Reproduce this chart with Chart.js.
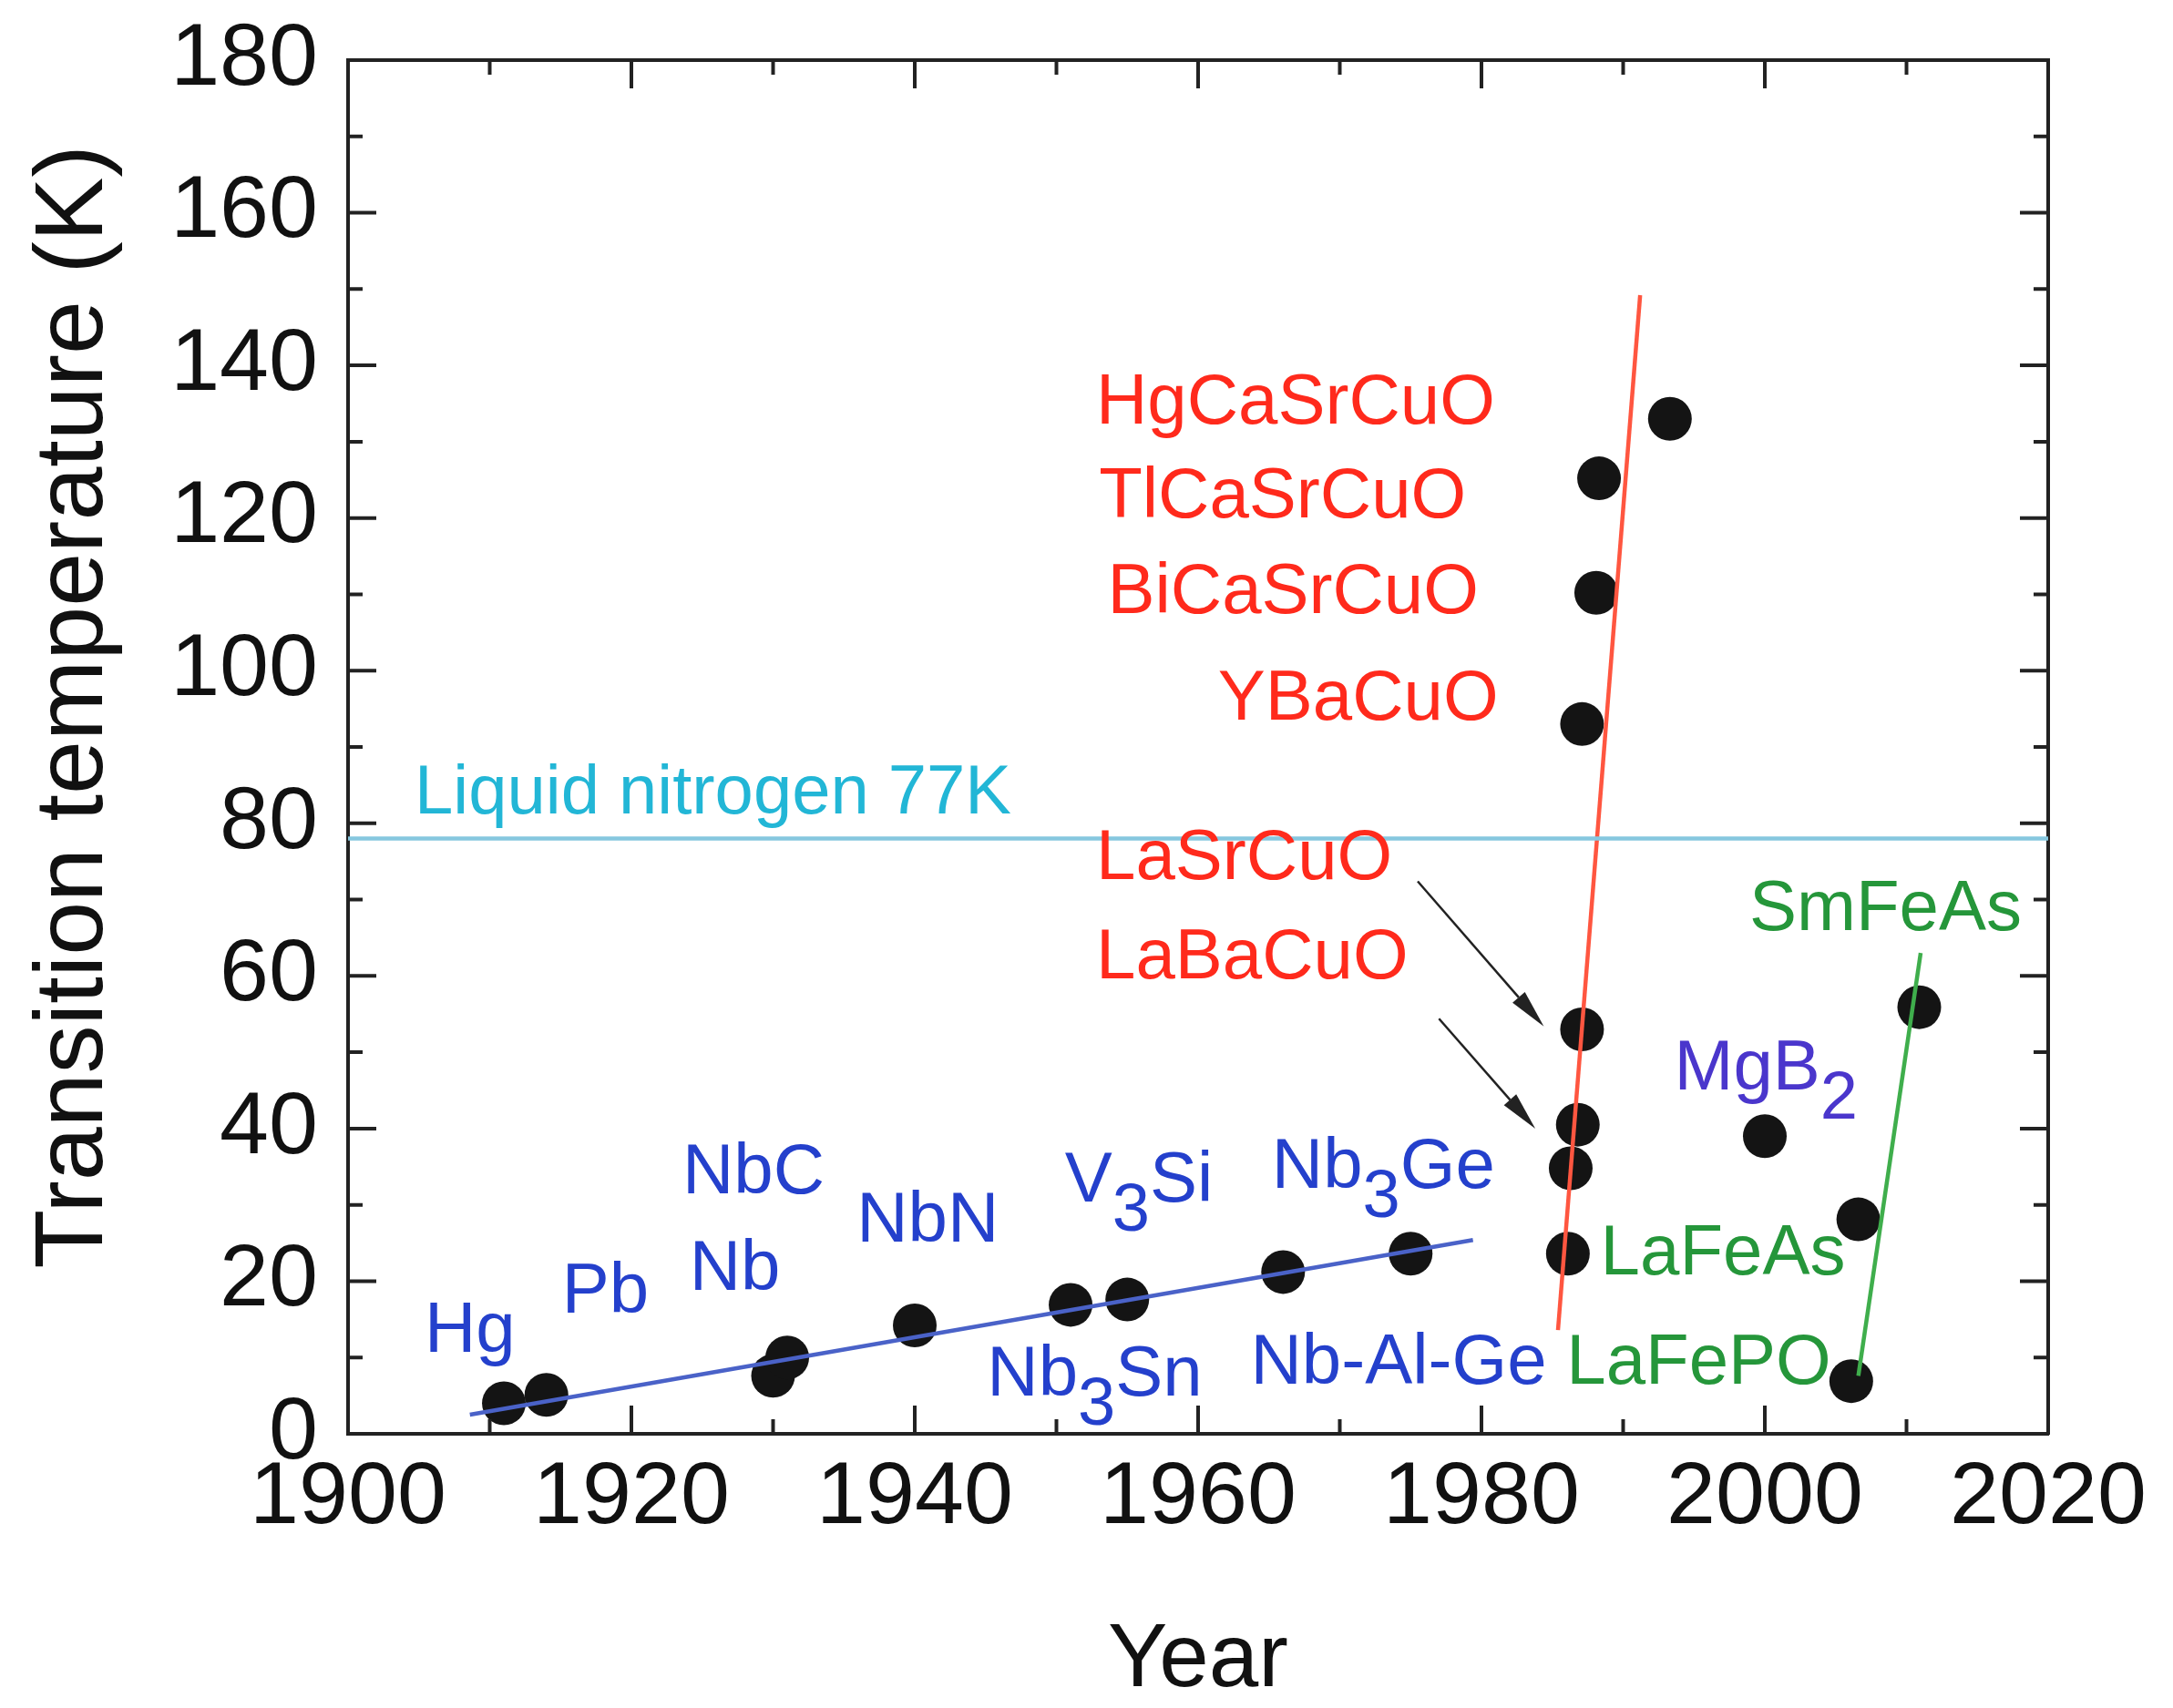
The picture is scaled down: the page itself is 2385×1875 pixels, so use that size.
<!DOCTYPE html>
<html lang="en">
<head>
<meta charset="UTF-8">
<title>Superconductor transition temperatures</title>
<script src="https://cdn.jsdelivr.net/npm/chart.js"></script>
<style>
  html, body { margin: 0; padding: 0; background: #fff; }
  #wrap { width: 2385px; height: 1875px; }
</style>
</head>
<body>
<div id="wrap"><canvas id="chart"></canvas></div>
<script>
    // measured points (year, Tc in K)
    const years = [1911, 1914, 1930, 1931, 1940, 1951, 1955, 1966, 1975,
                   1986.1, 1986.3, 1986.8, 1987.1, 1987.1, 1988.1, 1988.3, 1993.3,
                   2000, 2006.1, 2006.6, 2010.9];
    const tc = [4.0, 5.1, 7.6, 10, 14.2, 16.9, 17.6, 21.2, 23.6,
                23.6, 34.8, 40.5, 53, 93, 110.2, 125.2, 133,
                39, 6.9, 28.1, 55.9];

    // trend lines
    const blueX = [1908.6, 1979.4], blueY = [2.5, 25.4];
    const redX = [1985.4, 1991.2], redY = [13.6, 149.2];
    const greenX = [2006.6, 2011.0], greenY = [7.6, 63];
    const nitrogenX = [1900, 2020], nitrogenY = [78, 78];

    const xTicks = [1900, 1920, 1940, 1960, 1980, 2000, 2020];
    const yTicks = [0, 20, 40, 60, 80, 100, 120, 140, 160, 180];

    const RED = '#ff2a1c', BLUE = '#2440cc', GREEN = '#25963a', CYAN = '#22b6d6', PURPLE = '#4a36cc';
    const FONT = '"Liberation Sans", Arial, sans-serif';

    // text notes, '_' marks a subscript character
    const notes = [
        ['HgCaSrCuO', 1952.8, 135.0, RED],
        ['TlCaSrCuO', 1953.0, 122.7, RED],
        ['BiCaSrCuO', 1953.6, 110.1, RED],
        ['YBaCuO', 1961.4, 96.2, RED],
        ['LaSrCuO', 1952.8, 75.3, RED],
        ['LaBaCuO', 1952.8, 62.2, RED],
        ['SmFeAs', 1998.9, 68.6, GREEN],
        ['LaFeAs', 1988.4, 23.4, GREEN],
        ['LaFePO', 1986.0, 9.1, GREEN],
        ['MgB_2', 1993.6, 47.7, PURPLE],
        ['Hg', 1905.4, 13.3, BLUE],
        ['Pb', 1915.1, 18.5, BLUE],
        ['Nb', 1924.1, 21.4, BLUE],
        ['NbC', 1923.6, 34.1, BLUE],
        ['NbN', 1935.9, 27.8, BLUE],
        ['V_3Si', 1950.6, 33.0, BLUE],
        ['Nb_3Ge', 1965.2, 34.8, BLUE],
        ['Nb_3Sn', 1945.1, 7.6, BLUE],
        ['Nb-Al-Ge', 1963.7, 9.1, BLUE]
    ];
    const arrows = [
        [1975.5, 72.4, 1984.4, 53.4],
        [1977.0, 54.4, 1983.8, 40.0]
    ];

    function pts(xs, ys) {
        return xs.map(function (x, i) { return { x: x, y: ys[i] }; });
    }

    function drawRich(ctx, str, x, y, size) {
        // split into normal / subscript runs
        let runs = [], cur = '';
        for (let i = 0; i < str.length; i++) {
            if (str[i] === '_') {
                if (cur) runs.push([cur, false]);
                cur = '';
                runs.push([str[i + 1], true]);
                i++;
            } else {
                cur += str[i];
            }
        }
        if (cur) runs.push([cur, false]);
        let cx = x;
        runs.forEach(function (r) {
            ctx.font = (r[1] ? size * 0.95 : size) + 'px ' + FONT;
            ctx.fillText(r[0], cx, r[1] ? y + size * 0.42 : y);
            cx += ctx.measureText(r[0]).width;
        });
    }

    const overlay = {
        id: 'overlay',
        afterDatasetsDraw(chart) {
            const ctx = chart.ctx, xs = chart.scales.x, ys = chart.scales.y;
            ctx.save();
            // label text
            ctx.textBaseline = 'middle';
            ctx.textAlign = 'left';
            notes.forEach(function (n) {
                ctx.fillStyle = n[3];
                drawRich(ctx, n[0], xs.getPixelForValue(n[1]), ys.getPixelForValue(n[2]), 78);
            });
            ctx.fillStyle = CYAN;
            ctx.font = '76px ' + FONT;
            ctx.fillText('Liquid nitrogen 77K', xs.getPixelForValue(1904.7), ys.getPixelForValue(83.8));

            // arrows
            ctx.strokeStyle = '#222';
            ctx.fillStyle = '#222';
            ctx.lineWidth = 2.5;
            arrows.forEach(function (a) {
                const x0 = xs.getPixelForValue(a[0]), y0 = ys.getPixelForValue(a[1]);
                const x1 = xs.getPixelForValue(a[2]), y1 = ys.getPixelForValue(a[3]);
                const ang = Math.atan2(y1 - y0, x1 - x0);
                const hl = 42, hw = 9;
                const bx = x1 - hl * Math.cos(ang), by = y1 - hl * Math.sin(ang);
                ctx.beginPath();
                ctx.moveTo(x0, y0);
                ctx.lineTo(bx, by);
                ctx.stroke();
                ctx.beginPath();
                ctx.moveTo(x1, y1);
                ctx.lineTo(bx + hw * Math.sin(ang), by - hw * Math.cos(ang));
                ctx.lineTo(bx - hw * Math.sin(ang), by + hw * Math.cos(ang));
                ctx.closePath();
                ctx.fill();
            });
            ctx.restore();
        },
        afterDraw(chart) {
            // inward ticks on all four sides
            const ctx = chart.ctx, xs = chart.scales.x, ys = chart.scales.y;
            const a = chart.chartArea;
            ctx.save();
            ctx.strokeStyle = '#222';
            ctx.lineWidth = 4;
            ctx.beginPath();
            for (let v = xs.min + 10; v < xs.max; v += 10) {
                const px = xs.getPixelForValue(v);
                const len = v % 20 === 0 ? 31 : 16;
                ctx.moveTo(px, a.bottom); ctx.lineTo(px, a.bottom - len);
                ctx.moveTo(px, a.top); ctx.lineTo(px, a.top + len);
            }
            for (let v = ys.min + 10; v < ys.max; v += 10) {
                const py = ys.getPixelForValue(v);
                const len = v % 20 === 0 ? 31 : 16;
                ctx.moveTo(a.left, py); ctx.lineTo(a.left + len, py);
                ctx.moveTo(a.right, py); ctx.lineTo(a.right - len, py);
            }
            ctx.stroke();
            ctx.restore();
        }
    };

    const border = { display: true, width: 4, color: '#222' };
    const noGrid = { display: false, drawTicks: false };

    function fixWidth(w) {
        return function (s) { s.width = w; s.paddingTop = 0; s.paddingBottom = 0; };
    }
    function fixHeight(h) {
        return function (s) { s.height = h; s.paddingLeft = 0; s.paddingRight = 0; };
    }

    new Chart(document.getElementById('chart'), {
        type: 'scatter',
        data: {
            datasets: [
                { data: pts(nitrogenX, nitrogenY), showLine: true, borderColor: '#86c7df', borderWidth: 4.5, pointRadius: 0, order: 0 },
                { data: pts(blueX, blueY), showLine: true, borderColor: '#4a62c8', borderWidth: 4.5, pointRadius: 0, order: 0 },
                { data: pts(redX, redY), showLine: true, borderColor: '#ff5640', borderWidth: 4.5, pointRadius: 0, order: 0 },
                { data: pts(greenX, greenY), showLine: true, borderColor: '#3fae4c', borderWidth: 4.5, pointRadius: 0, order: 0 },
                { data: pts(years, tc), pointRadius: 24, pointBackgroundColor: '#141414', pointBorderWidth: 0, order: 1 }
            ]
        },
        options: {
            responsive: true,
            maintainAspectRatio: false,
            devicePixelRatio: 1,
            animation: false,
            layout: { padding: 0 },
            plugins: { legend: { display: false }, tooltip: { enabled: false } },
            scales: {
                x: {
                    type: 'linear', position: 'bottom', min: 1900, max: 2020,
                    afterBuildTicks: function (s) { s.ticks = xTicks.map(function (v) { return { value: v }; }); },
                    afterFit: fixHeight(301),
                    ticks: {
                        color: '#111', font: { family: FONT, size: 97 }, padding: 13, maxRotation: 0, autoSkip: false,
                        callback: function (v) { return String(v); }
                    },
                    grid: noGrid, border: border,
                    title: { display: true, text: 'Year', color: '#111', font: { family: FONT, size: 98, lineHeight: 1 }, padding: { top: 0, bottom: 2 } }
                },
                x2: {
                    type: 'linear', position: 'top', min: 1900, max: 2020,
                    afterFit: fixHeight(66),
                    ticks: { display: false }, grid: noGrid, border: border
                },
                y: {
                    type: 'linear', position: 'left', min: 0, max: 180,
                    afterBuildTicks: function (s) { s.ticks = yTicks.map(function (v) { return { value: v }; }); },
                    afterFit: fixWidth(382),
                    ticks: { color: '#111', font: { family: FONT, size: 97 }, padding: 33, autoSkip: false },
                    grid: noGrid, border: border,
                    title: { display: true, text: '   Transition temperature (K)', color: '#111', font: { family: FONT, size: 106, lineHeight: 1.2 }, padding: { top: 19, bottom: 0 } }
                },
                y2: {
                    type: 'linear', position: 'right', min: 0, max: 180,
                    afterFit: fixWidth(137),
                    ticks: { display: false }, grid: noGrid, border: border
                }
            }
        },
        plugins: [overlay]
    });
</script>
</body>
</html>
